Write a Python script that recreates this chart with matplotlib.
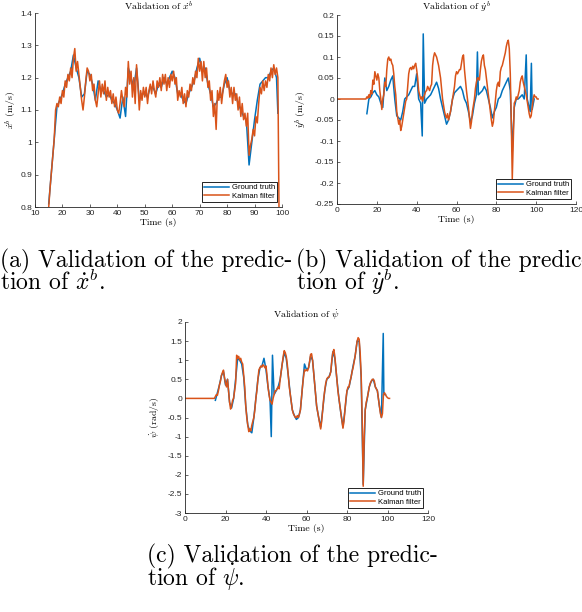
import numpy as np
import matplotlib
matplotlib.use("Agg")
import matplotlib.pyplot as plt
import matplotlib.ticker as mticker

plt.rcParams["mathtext.fontset"] = "cm"
plt.rcParams["axes.unicode_minus"] = False
plt.rcParams["font.family"] = ["Liberation Sans", "DejaVu Sans"]

# ---- (a) forward velocity x_dot^b ----
kf_a_t = np.arange(15, 99.01, 0.5)
kf_a = [0.80, 0.86, 0.91, 0.96, 1.01, 1.10, 1.12, 1.11, 1.14, 1.12,
        1.16, 1.14, 1.19, 1.17, 1.21, 1.19, 1.23, 1.20, 1.26, 1.29,
        1.22, 1.25, 1.21, 1.17, 1.13, 1.10, 1.14, 1.19, 1.23, 1.22,
        1.19, 1.21, 1.16, 1.18, 1.13, 1.11, 1.15, 1.19, 1.14, 1.18,
        1.15, 1.19, 1.13, 1.17, 1.14, 1.16, 1.12, 1.15, 1.11, 1.14,
        1.10, 1.09, 1.12, 1.16, 1.13, 1.11, 1.17, 1.14, 1.25, 1.18,
        1.22, 1.14, 1.20, 1.12, 1.24, 1.18, 1.10, 1.16, 1.13, 1.17,
        1.14, 1.17, 1.12, 1.16, 1.18, 1.15, 1.19, 1.16, 1.14, 1.19,
        1.17, 1.20, 1.16, 1.21, 1.18, 1.21, 1.16, 1.20, 1.17, 1.21,
        1.19, 1.22, 1.18, 1.20, 1.13, 1.16, 1.14, 1.17, 1.12, 1.15,
        1.11, 1.16, 1.14, 1.18, 1.16, 1.20, 1.18, 1.22, 1.20, 1.26,
        1.22, 1.25, 1.19, 1.25, 1.20, 1.23, 1.17, 1.19, 1.13, 1.16,
        1.08, 1.12, 1.04, 1.16, 1.13, 1.17, 1.12, 1.16, 1.19, 1.21,
        1.17, 1.19, 1.14, 1.17, 1.12, 1.17, 1.13, 1.15, 1.10, 1.14,
        1.08, 1.12, 1.07, 1.09, 1.05, 1.09, 0.96, 0.99, 1.01, 1.04,
        1.02, 1.08, 1.06, 1.12, 1.17, 1.15, 1.19, 1.16, 1.19, 1.17,
        1.21, 1.19, 1.23, 1.20, 1.24, 1.21, 1.23, 1.20, 0.70]
gt_a_t = [15, 16, 17, 18, 19, 20, 21, 22, 23, 24, 25, 26, 27, 28, 29, 30,
          31, 32, 33, 34, 35, 36, 37, 38, 39, 40, 41, 42, 43, 44, 45, 46,
          47, 48, 49, 50, 51, 52, 53, 54, 55, 56, 57, 58, 59, 60, 61, 62,
          63, 64, 65, 66, 67, 68, 69, 70, 71, 72, 73, 74, 75, 76, 77, 78,
          79, 80, 81, 82, 83, 84, 85, 86, 87, 88, 89, 90, 91, 92, 93, 94,
          95, 96, 97, 98, 98.5]
gt_a = [0.81, 0.91, 1.01, 1.11, 1.13, 1.15, 1.18, 1.20, 1.22, 1.27, 1.23, 1.20,
        1.14, 1.15, 1.22, 1.21, 1.18, 1.13, 1.19, 1.16, 1.16, 1.14, 1.15, 1.13,
        1.12, 1.10, 1.075, 1.14, 1.08, 1.23, 1.20, 1.17, 1.23, 1.13, 1.15, 1.15,
        1.14, 1.17, 1.17, 1.15, 1.18, 1.17, 1.20, 1.18, 1.20, 1.22, 1.20, 1.15,
        1.15, 1.13, 1.12, 1.15, 1.17, 1.19, 1.23, 1.26, 1.22, 1.23, 1.18, 1.15,
        1.11, 1.12, 1.14, 1.14, 1.18, 1.20, 1.16, 1.15, 1.15, 1.12, 1.10, 1.08,
        1.07, 0.93, 1.00, 1.07, 1.13, 1.18, 1.19, 1.20, 1.20, 1.22, 1.23, 1.20,
        1.09]

# ---- (b) lateral velocity y_dot^b ----
kf_b_t = np.arange(0, 101.01, 0.5)
kf_b = [0.0] * 30 + [
    0.005, 0.002, 0.010, 0.004, 0.020, 0.012, 0.045, 0.035, 0.065, 0.055,
    0.045, 0.060, 0.050, 0.020, 0.000, -0.025, 0.000, 0.010, 0.040, 0.030,
    0.070, 0.095, 0.100, 0.092, 0.095, 0.085, 0.080, 0.060, 0.030, 0.010,
    -0.030, -0.045, -0.060, -0.050, -0.075, -0.065, -0.050, -0.035, -0.020, -0.005,
    0.000, 0.030, 0.060, 0.072, 0.075, 0.070, 0.078, 0.072, 0.080, 0.085,
    0.070, 0.050, 0.020, 0.010, 0.000, 0.005, -0.005, 0.005, 0.010, 0.018,
    0.020, 0.030, 0.025, 0.020, 0.030, 0.035, 0.080, 0.100, 0.110, 0.105,
    0.100, 0.090, 0.080, 0.065, 0.050, 0.025, 0.000, -0.015, -0.030, -0.040,
    -0.045, -0.035, -0.050, -0.040, -0.030, -0.015, 0.000, 0.015, 0.030, 0.055,
    0.065, 0.060, 0.065, 0.070, 0.070, 0.085, 0.100, 0.105, 0.070, 0.045,
    0.020, 0.000, -0.020, -0.045, -0.070, -0.055, -0.030, -0.015, 0.000, 0.025,
    0.040, 0.050, 0.050, 0.045, 0.070, 0.090, 0.100, 0.105, 0.080, 0.070,
    0.050, 0.030, 0.010, -0.010, -0.030, -0.050, -0.065, -0.055, -0.030, -0.005,
    0.020, 0.035, 0.040, 0.030, 0.065, 0.075, 0.080, 0.090, 0.100, 0.110,
    0.125, 0.135, 0.140, 0.120, 0.060, -0.050, -0.190, -0.100, -0.010, -0.005,
    0.005, 0.000, 0.010, 0.020, 0.040, 0.050, 0.055, 0.040, 0.030, 0.020,
    0.010, -0.005, -0.020, -0.035, -0.045, -0.040, -0.020, 0.000, 0.010, 0.005,
    0.005, 0.000, 0.000]
gt_b_t = [15, 16, 17, 18, 19, 20, 21, 22, 23, 24, 25, 26, 27, 28, 29, 30,
          31, 32, 33, 34, 35, 36, 37, 38, 39, 40, 41, 42, 42.8, 43.3, 44, 45,
          46, 47, 48, 49, 50, 51, 52, 53, 54, 55, 56, 57, 58, 59, 60, 61,
          62, 63, 64, 65, 66, 67, 68, 69, 70, 70.5, 71, 72, 73, 74, 75, 76,
          77, 78, 79, 80, 81, 82, 83, 84, 85, 86, 87, 88, 89, 90, 91, 92,
          93, 94, 95, 95.5, 96, 97, 97.6, 98, 99]
gt_b = [-0.035, 0.000, 0.005, 0.015, 0.020, 0.010, 0.005, -0.010, -0.020, 0.050,
        0.020, 0.030, 0.045, 0.055, 0.000, -0.040, -0.045, -0.050, -0.030, 0.000,
        0.005, 0.010, 0.020, 0.030, 0.030, 0.060, 0.000, -0.010, -0.088, 0.155,
        -0.010, 0.000, 0.005, 0.010, 0.020, 0.030, 0.040, 0.025, 0.000, -0.020,
        -0.040, -0.060, -0.050, -0.030, 0.000, 0.015, 0.020, 0.025, 0.030, 0.020,
        0.000, -0.010, -0.030, -0.055, -0.040, -0.010, 0.010, 0.112, 0.010, 0.015,
        0.020, 0.030, 0.020, 0.000, -0.020, -0.045, -0.030, -0.020, 0.000, 0.005,
        0.020, 0.030, 0.040, 0.050, 0.020, -0.125, -0.020, 0.000, 0.000, 0.005,
        0.010, 0.000, 0.105, 0.000, -0.010, -0.030, 0.085, -0.025, 0.000]

# ---- (c) yaw rate psi_dot ----
kf_c_t = np.arange(0, 101.01, 0.5)
kf_c = [0.0] * 30 + [
    0.05, 0.10, 0.08, 0.20, 0.35, 0.45, 0.60, 0.68, 0.74, 0.55,
    0.40, 0.30, 0.50, 0.20, -0.10, -0.28, -0.20, -0.05, 0.00, 0.20,
    0.40, 1.13, 1.05, 1.10, 1.00, 1.05, 0.95, 0.90, 0.60, 0.30,
    -0.20, -0.50, -0.70, -0.87, -0.80, -0.85, -0.70, -0.60, -0.50, -0.30,
    0.00, 0.20, 0.50, 0.75, 0.80, 0.85, 0.82, 0.88, 0.85, 0.80,
    0.85, 0.60, 0.30, 0.10, -0.05, -0.10, -0.15, 0.00, 0.10, 0.20,
    0.20, 0.25, 0.30, 0.25, 0.50, 0.70, 0.90, 1.10, 1.25, 1.20,
    1.10, 0.90, 0.60, 0.30, 0.10, -0.10, -0.30, -0.40, -0.45, -0.50,
    -0.50, -0.45, -0.50, -0.42, -0.30, 0.00, 0.30, 0.55, 0.75, 0.72,
    0.75, 0.72, 0.80, 0.95, 1.15, 1.17, 1.00, 0.70, 0.40, 0.10,
    -0.20, -0.35, -0.50, -0.65, -0.80, -0.60, -0.30, 0.00, 0.20, 0.40,
    0.50, 0.55, 0.55, 0.60, 0.70, 1.00, 1.20, 1.28, 1.10, 0.80,
    0.50, 0.20, 0.00, -0.20, -0.40, -0.60, -0.78, -0.60, -0.30, 0.00,
    0.20, 0.30, 0.30, 0.45, 0.55, 0.70, 0.80, 0.95, 1.10, 1.30,
    1.50, 1.59, 1.55, 1.20, 0.60, -0.50, -2.30, -1.00, -0.30, -0.10,
    0.00, 0.15, 0.30, 0.40, 0.45, 0.50, 0.50, 0.45, 0.30, 0.25,
    0.20, 0.00, -0.20, -0.40, -0.50, -0.40, 0.10, 0.15, 0.10, 0.05,
    0.02, 0.00, 0.00]
gt_c_t = [15, 16, 17, 18, 19, 20, 21, 22, 23, 24, 25, 26, 27, 28, 29, 30,
          31, 32, 33, 34, 35, 36, 37, 38, 39, 40, 41, 42, 42.6, 43.2, 44, 45,
          46, 47, 48, 49, 50, 51, 52, 53, 54, 55, 56, 57, 58, 59, 60, 61,
          62, 63, 64, 65, 66, 67, 68, 69, 70, 71, 72, 73, 74, 75, 76, 77,
          78, 79, 80, 81, 82, 83, 84, 85, 86, 87, 88, 89, 90, 91, 92, 93,
          94, 95, 96, 97, 97.9, 98.2, 99]
gt_c = [-0.05, 0.15, 0.35, 0.60, 0.70, 0.35, 0.50, -0.10, -0.25, 0.00,
        0.50, 1.05, 1.00, 0.90, 0.55, -0.20, -0.70, -0.85, -0.90, -0.50,
        0.00, 0.50, 0.80, 0.85, 1.05, 0.75, 0.30, -0.05, -1.00, 1.13,
        0.10, 0.20, 0.30, 0.50, 0.90, 1.20, 1.05, 0.60, 0.10, -0.30,
        -0.45, -0.55, -0.50, -0.30, 0.30, 0.90, 0.75, 0.80, 1.10, 1.00,
        0.40, -0.20, -0.50, -0.75, -0.30, 0.20, 0.50, 0.55, 0.70, 1.22,
        1.05, 0.50, 0.00, -0.40, -0.75, -0.30, 0.20, 0.30, 0.55, 0.85,
        1.10, 1.50, 1.50, 0.55, -2.25, -0.30, 0.00, 0.30, 0.45, 0.50,
        0.30, 0.20, -0.20, -0.50, 1.70, 0.10, 0.10]

blue = "#0072BD"
orange = "#D95319"
axcol = "#262626"
W, H = 582, 612

fig = plt.figure(figsize=(W / 100, H / 100), dpi=100)


def make_ax(left, right, top, bottom):
    return fig.add_axes([left / W, 1 - bottom / H, (right - left) / W, (bottom - top) / H])


def style(ax, title, ylabel, ylab_px, xlim, xticks, ylim, yticks):
    ax.set_xlim(xlim)
    ax.set_ylim(ylim)
    ax.set_xticks(xticks)
    ax.set_yticks(yticks)
    ax.xaxis.set_major_formatter(mticker.FormatStrFormatter("%g"))
    ax.yaxis.set_major_formatter(mticker.FormatStrFormatter("%g"))
    for s in ["top", "right"]:
        ax.spines[s].set_visible(False)
    for s in ["left", "bottom"]:
        ax.spines[s].set_color(axcol)
        ax.spines[s].set_linewidth(0.6)
    ax.tick_params(direction="in", length=2.5, width=0.5, colors=axcol,
                   labelsize=6, pad=2)
    ax.set_title(title, fontsize=7, family="cmr10", pad=2)
    ax.set_xlabel("Time (s)", fontsize=7, family="cmr10", labelpad=1)
    ax.set_ylabel(ylabel, fontsize=7, family="cmr10")
    # place y label a fixed number of pixels left of the axis
    w_px = ax.get_position().width * W
    ax.yaxis.set_label_coords(-ylab_px / w_px, 0.5)
    leg = ax.legend(loc="lower right", fontsize=5.5, fancybox=False, framealpha=1,
                    edgecolor="black", handlelength=3.2, borderpad=0.3,
                    labelspacing=0.2, handletextpad=0.4, borderaxespad=0.6)
    leg.get_frame().set_linewidth(0.6)


ax1 = make_ax(35, 282, 13, 207)
ax1.plot(gt_a_t, gt_a, color=blue, lw=1.1, label="Ground truth")
ax1.plot(kf_a_t, kf_a, color=orange, lw=1.1, label="Kalman filter")
style(ax1, r"Validation of $\dot{x}^b$", r"$\dot{x}^b$ (m/s)", 16, (10, 100),
      [10, 20, 30, 40, 50, 60, 70, 80, 90, 100], (0.8, 1.4),
      [0.8, 0.9, 1.0, 1.1, 1.2, 1.3, 1.4])

ax2 = make_ax(337, 576, 15, 204)
ax2.plot(gt_b_t, gt_b, color=blue, lw=1.1, label="Ground truth")
ax2.plot(kf_b_t, kf_b, color=orange, lw=1.1, label="Kalman filter")
style(ax2, r"Validation of $\dot{y}^b$", r"$\dot{y}^b$ (m/s)", 28, (0, 120),
      [0, 20, 40, 60, 80, 100, 120], (-0.25, 0.2),
      [-0.25, -0.2, -0.15, -0.1, -0.05, 0, 0.05, 0.1, 0.15, 0.2])

ax3 = make_ax(185, 428, 322, 513)
ax3.plot(gt_c_t, gt_c, color=blue, lw=1.1, label="Ground truth")
ax3.plot(kf_c_t, kf_c, color=orange, lw=1.1, label="Kalman filter")
style(ax3, r"Validation of $\dot{\psi}$", r"$\dot{\psi}$ (rad/s)", 23, (0, 120),
      [0, 20, 40, 60, 80, 100, 120], (-3, 2),
      [-3, -2.5, -2, -1.5, -1, -0.5, 0, 0.5, 1, 1.5, 2])

# captions (subfigure captions of the LaTeX page)
cap = dict(fontsize=17, family="cmr10", va="baseline", ha="left")
fig.text(0 / W, 1 - 267 / H, "(a) Validation of the predic-", **cap)
fig.text(0 / W, 1 - 290 / H, r"tion of $\dot{x}^b$.", **cap)
fig.text(296 / W, 1 - 267 / H, "(b) Validation of the predic-", **cap)
fig.text(296 / W, 1 - 290 / H, r"tion of $\dot{y}^b$.", **cap)
fig.text(147 / W, 1 - 562 / H, "(c) Validation of the predic-", **cap)
fig.text(147 / W, 1 - 586 / H, r"tion of $\dot{\psi}$.", **cap)

fig.savefig("out.png", dpi=100)
